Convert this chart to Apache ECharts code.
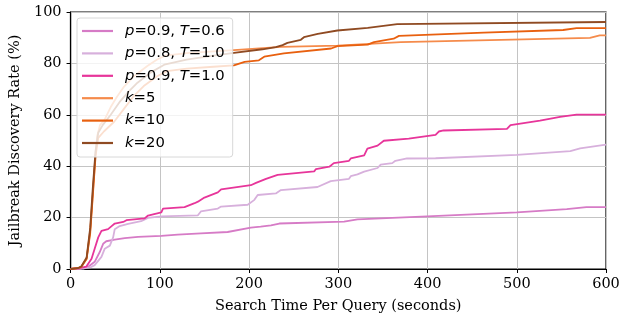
<!DOCTYPE html>
<html>
<head>
<meta charset="utf-8">
<script src="https://cdn.jsdelivr.net/npm/echarts@6/dist/echarts.min.js"></script>
<style>html,body{margin:0;padding:0;background:#fff}#c{width:623px;height:319px}</style>
</head>
<body>
<div id="c"></div>
<script>
// Series names
const seriesNames = ['p=0.9, T=0.6', 'p=0.8, T=1.0', 'p=0.9, T=1.0', 'k=5', 'k=10', 'k=20'];
// x tick labels / y ticks
const xTicks = [0, 100, 200, 300, 400, 500, 600];
const yTicks = [0, 20, 40, 60, 80, 100];

// p=0.9, T=0.6
const s1X = [0, 12, 19.8, 27, 32.7, 36.5, 40, 49.5, 60.7, 75.6, 101.7, 120, 146, 176, 202, 213, 224.6, 233.9, 306.5, 321.5, 399.7, 500, 556, 578, 600];
const s1Y = [0, 0.2, 0.9, 2.8, 6.6, 9.8, 10.8, 11.4, 12, 12.5, 12.9, 13.4, 13.9, 14.4, 16.1, 16.5, 17, 17.7, 18.4, 19.3, 20.5, 22, 23.3, 24.1, 24.1];
// p=0.8, T=1.0
const s2X = [0, 15, 22, 27, 34.6, 38.3, 44, 47.7, 49.5, 55, 64.5, 79, 86.8, 101.7, 142.7, 146, 165, 168.7, 198.5, 206, 209.7, 230, 235.7, 276.7, 291.6, 312, 314, 321.5, 329, 344, 347.5, 360.5, 364, 377, 409, 500, 560, 571, 600];
const s2Y = [0, 0.2, 0.6, 1.5, 4.7, 7.9, 9.1, 12.3, 15.5, 16.7, 17.6, 18.6, 19.9, 20.5, 20.9, 22.4, 23.5, 24.3, 25, 26.9, 28.8, 29.4, 30.7, 31.9, 34.2, 35.1, 36.1, 36.8, 37.9, 39.3, 40.6, 41.2, 42.1, 43, 43.1, 44.4, 45.9, 46.9, 48.4];
// p=0.9, T=1.0
const s3X = [0, 10, 17.5, 23.5, 27, 31, 34.6, 42, 46, 49.5, 59, 62.6, 83, 86.8, 101.7, 103.6, 127.7, 139, 142.7, 150, 165, 168.7, 202, 207.8, 219, 232, 273, 275, 290, 295, 312, 314, 329, 332.6, 344, 351, 379, 381, 409, 412.6, 418, 489, 493, 526, 548.5, 567, 600];
const s3Y = [0, 0.3, 0.9, 4, 7.9, 12.3, 14.8, 15.5, 16.7, 17.7, 18.3, 19, 19.7, 20.8, 22, 23.5, 24.1, 25.6, 26.2, 27.8, 29.8, 31, 32.6, 33.5, 35.1, 36.6, 38, 38.9, 39.8, 41.2, 42.1, 43, 44.2, 46.8, 48, 49.9, 50.7, 51.3, 52.2, 53.5, 53.9, 54.5, 56, 57.7, 59.2, 60.1, 60.1];
// k=5
const s4X = [0, 8, 12, 18, 22, 25, 28, 30, 33, 38, 45, 52, 60, 71, 86, 97, 106, 130, 160, 183, 236, 299, 370, 582, 593, 600];
const s4Y = [0, 0.3, 1, 4, 15, 30, 45, 52, 56, 58, 63, 67, 71, 75, 79, 81.5, 83, 84, 84.7, 85.2, 86.4, 86.9, 88.3, 89.9, 90.9, 90.9];
// k=10
const s5X = [0, 8, 12, 18, 22, 25, 28, 31, 37.6, 48.8, 60, 71, 82, 97, 108, 130, 160, 183, 195, 211, 217, 239, 292, 299, 333, 340, 362, 368, 463, 552, 567, 600];
const s5Y = [0, 0.3, 0.8, 4, 14, 29, 44, 51, 53.6, 57.3, 62.4, 67.4, 71.2, 75, 77, 78, 78.7, 79.2, 80.6, 81.2, 82.6, 83.9, 85.8, 86.7, 87.3, 88.3, 89.6, 90.7, 92, 93, 93.7, 93.7];
// k=20
const s6X = [0, 8, 12, 18, 22, 25, 28, 31, 36, 45, 55, 65, 75, 90, 105, 130, 160, 183, 215, 230, 237.6, 243, 258, 261.5, 277, 299, 333, 366, 600];
const s6Y = [0, 0.3, 1, 4.5, 16, 32, 46, 53, 56, 60, 65, 69, 72.5, 76.5, 79.5, 81.5, 83, 84.1, 85.5, 86.3, 87.1, 88, 89.2, 90.2, 91.5, 92.8, 93.8, 95.3, 96.1];

const xs = [s1X, s2X, s3X, s4X, s5X, s6X];
const ys = [s1Y, s2Y, s3Y, s4Y, s5Y, s6Y];
const colors = ['#d67bc6', '#d7b0dc', '#e7359a', '#f58b4b', '#e8600f', '#8f4a22'];

const series = seriesNames.map((n, i) => ({
  name: n,
  type: 'line',
  showSymbol: false,
  symbol: 'none',
  data: xs[i].map((x, j) => [x, ys[i][j]]),
  lineStyle: { width: 1.8, color: colors[i] },
  itemStyle: { color: colors[i] },
  z: 2 + i * 0.01,
  animation: false
}));

function fmtLegend(name) {
  return name.replace(/([pTk])=/g, '{i|$1}=');
}

const serif = 'DejaVu Serif';
const chart = echarts.init(document.getElementById('c'), null, { renderer: 'canvas' });
chart.setOption({
  animation: false,
  backgroundColor: '#fff',
  grid: { left: 69, right: 17, top: 12, bottom: 44, show: true, borderColor: '#000', borderWidth: 1.2, backgroundColor: 'transparent' },
  xAxis: {
    type: 'value', min: 0, max: 600, interval: 100,
    name: 'Search Time Per Query (seconds)', nameLocation: 'middle', nameGap: 30,
    nameTextStyle: { fontFamily: serif, fontSize: 14.5, color: '#000' },
    axisLine: { show: true, lineStyle: { color: '#000', width: 1.2 } },
    axisTick: { show: true, length: 4, lineStyle: { color: '#000' } },
    axisLabel: { fontFamily: serif, fontSize: 14.5, color: '#000', margin: 8 },
    splitLine: { show: true, lineStyle: { color: '#c4c4c4', width: 1 } }
  },
  yAxis: {
    type: 'value', min: 0, max: 100, interval: 20,
    name: 'Jailbreak Discovery Rate (%)', nameLocation: 'middle', nameGap: 39,
    nameTextStyle: { fontFamily: serif, fontSize: 14.5, color: '#000' },
    axisLine: { show: true, lineStyle: { color: '#000', width: 1.2 } },
    axisTick: { show: true, length: 4, lineStyle: { color: '#000' } },
    axisLabel: { fontFamily: serif, fontSize: 14.5, color: '#000', margin: 9 },
    splitLine: { show: true, lineStyle: { color: '#c4c4c4', width: 1 } }
  },
  legend: {
    orient: 'vertical', left: 77, top: 18,
    data: seriesNames,
    icon: 'rect', itemWidth: 31, itemHeight: 2.2, itemGap: 4.4,
    padding: [4, 8, 5, 5],
    backgroundColor: 'rgba(255,255,255,0.8)',
    borderColor: '#d8d8d8', borderWidth: 1, borderRadius: 3,
    formatter: fmtLegend,
    textStyle: {
      fontFamily: 'DejaVu Sans', fontSize: 14.8, color: '#000', lineHeight: 18, padding: [0, 0, 0, 7],
      rich: { i: { fontFamily: 'DejaVu Sans', fontStyle: 'italic', fontSize: 14.8, lineHeight: 18, color: '#000' } }
    }
  },
  series: series
});
</script>
</body>
</html>
